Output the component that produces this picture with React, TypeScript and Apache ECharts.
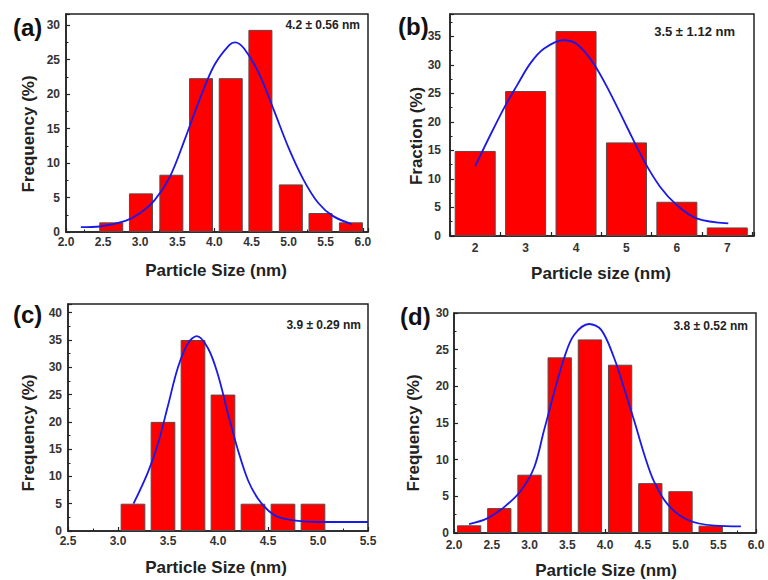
import React, { useEffect, useRef } from "react";
import * as echarts from "echarts";

// Panel (a)
const aBarX = [2.61, 3.01, 3.42, 3.82, 4.22, 4.62, 5.03, 5.43, 5.84];
const aBarY = [1.4, 5.6, 8.3, 22.3, 22.3, 29.3, 6.9, 2.75, 1.4];
const aFitX = [2.2, 2.46, 2.8, 3.0, 3.2, 3.4, 3.6, 3.8, 4.0, 4.2, 4.28, 4.4, 4.6, 4.8, 5.0, 5.2, 5.4, 5.6, 5.85];
const aFitY = [0.7, 0.8, 1.6, 2.75, 4.7, 8.0, 13.4, 19.2, 24.2, 27.1, 27.5, 26.6, 23.0, 17.7, 12.2, 7.6, 4.2, 2.3, 1.15];

// Panel (b)
const bBarX = [2, 3, 4, 5, 6, 7];
const bBarY = [14.9, 25.4, 35.9, 16.4, 6.0, 1.5];
const bFitX = [2.0, 2.3, 2.6, 2.83, 3.09, 3.36, 3.75, 4.02, 4.35, 4.68, 5.01, 5.34, 5.67, 6.0, 6.39, 7.02];
const bFitY = [12.25, 17.7, 22.9, 26.4, 30.2, 32.8, 34.3, 33.6, 30.2, 25.0, 19.1, 13.3, 8.6, 5.4, 3.1, 2.2];

// Panel (c)
const cBarX = [3.15, 3.45, 3.75, 4.05, 4.35, 4.65, 4.95];
const cBarY = [5, 20, 35, 25, 5, 5, 5];
const cFitX = [3.155, 3.3, 3.4, 3.5, 3.6, 3.7, 3.787, 3.9, 4.0, 4.1, 4.2, 4.3, 4.4, 4.5, 4.6, 4.8, 5.0, 5.5];
const cFitY = [5.0, 10.8, 16.0, 23.0, 30.0, 34.4, 35.7, 33.5, 28.6, 21.5, 14.8, 9.3, 5.9, 3.8, 2.6, 1.85, 1.65, 1.65];

// Panel (d)
const dBarX = [2.2, 2.6, 3.0, 3.4, 3.8, 4.2, 4.6, 5.0, 5.4];
const dBarY = [1.05, 3.4, 7.95, 23.95, 26.4, 22.95, 6.8, 5.7, 1.0];
const dFitX = [2.2, 2.44, 2.66, 2.88, 3.06, 3.19, 3.33, 3.46, 3.59, 3.79, 3.95, 4.12, 4.25, 4.39, 4.52, 4.65, 4.83, 5.09, 5.45, 5.8];
const dFitY = [1.22, 2.0, 3.5, 5.7, 8.9, 13.9, 19.3, 23.9, 27.0, 28.5, 27.7, 23.9, 19.8, 15.2, 10.7, 7.0, 3.9, 1.8, 1.0, 0.9];

const panelLabels = ["(a)", "(b)", "(c)", "(d)"];
const fitTexts = ["4.2 ± 0.56 nm", "3.5 ± 1.12 nm", "3.9 ± 0.29 nm", "3.8 ± 0.52 nm"];
const xTitles = ["Particle Size (nm)", "Particle size (nm)", "Particle Size (nm)", "Particle Size (nm)"];
const yTitles = ["Frequency (%)", "Fraction (%)", "Frequency (%)", "Frequency (%)"];

const FONT = "Liberation Sans, Arial, sans-serif";

const zip = (xs: number[], ys: number[]) => xs.map((x, i) => [x, ys[i]]);

export default function App() {
  const ref = useRef<HTMLDivElement>(null);
  useEffect(() => {
    document.body.style.margin = "0";
    const chart = echarts.init(ref.current!, null, { renderer: "svg" });

    const grids = [
      { left: 66, top: 14, width: 302, height: 218 },
      { left: 450, top: 14, width: 304, height: 222 },
      { left: 68, top: 304, width: 300, height: 227 },
      { left: 454, top: 313, width: 302, height: 220 },
    ];
    const xr = [
      { min: 2.0, max: 6.07, int: 0.5, fmt: (v: number) => (Math.abs(v * 2 - Math.round(v * 2)) < 1e-6 && v <= 6.0001 ? v.toFixed(1) : ""), margin: 4 },
      { min: 1.5, max: 7.53, int: 0.5, fmt: (v: number) => (Math.abs(v - Math.round(v)) < 1e-6 && v >= 2 && v <= 7 ? String(Math.round(v)) : ""), margin: 6 },
      { min: 2.5, max: 5.5, int: 0.5, fmt: (v: number) => v.toFixed(1), margin: 4 },
      { min: 2.0, max: 6.0, int: 0.5, fmt: (v: number) => v.toFixed(1), margin: 6 },
    ];
    const yr = [
      { max: 31.6, margin: 6 },
      { max: 38.9, margin: 9 },
      { max: 41.6, margin: 6 },
      { max: 30, margin: 5 },
    ];
    const barWidths = [24, 41, 24.7, 24.3];
    const bars = [zip(aBarX, aBarY), zip(bBarX, bBarY), zip(cBarX, cBarY), zip(dBarX, dBarY)];
    const fits = [zip(aFitX, aFitY), zip(bFitX, bFitY), zip(cFitX, cFitY), zip(dFitX, dFitY)];

    const labelStyle = { color: "#333", fontSize: 12, fontWeight: "bold" as const, fontFamily: FONT };
    const lineStyle = { color: "#222", width: 1.5 };

    const xAxis = xr.map((r, i) => ({
      type: "value",
      gridIndex: i,
      min: r.min,
      max: r.max,
      interval: r.int,
      axisLine: { show: true, onZero: false, lineStyle },
      axisTick: { show: true, inside: true, length: 4, lineStyle: { color: "#222", width: 1.2 } },
      minorTick: { show: i !== 1, splitNumber: 2, length: 2.5, lineStyle: { color: "#222", width: 1 } },
      splitLine: { show: false },
      axisLabel: { ...labelStyle, margin: r.margin, showMaxLabel: true, formatter: r.fmt },
    }));
    const yAxis = yr.map((r, i) => ({
      type: "value",
      gridIndex: i,
      min: 0,
      max: r.max,
      interval: 5,
      axisLine: { show: true, lineStyle },
      axisTick: { show: true, inside: true, length: 4, lineStyle: { color: "#222", width: 1.2 } },
      minorTick: { show: true, splitNumber: 2, length: 2.5, lineStyle: { color: "#222", width: 1 } },
      splitLine: { show: false },
      axisLabel: {
        ...labelStyle,
        margin: r.margin,
        formatter: (v: number) => (Math.abs(v / 5 - Math.round(v / 5)) < 1e-6 ? String(Math.round(v)) : ""),
      },
    }));

    const series: any[] = [];
    bars.forEach((d, i) => {
      series.push({
        type: "bar",
        xAxisIndex: i,
        yAxisIndex: i,
        data: d,
        barWidth: barWidths[i],
        itemStyle: { color: "#ff0000", borderColor: "#5a4a4a", borderWidth: 1 },
        z: 2,
      });
    });
    fits.forEach((d, i) => {
      series.push({
        type: "line",
        xAxisIndex: i,
        yAxisIndex: i,
        data: d,
        smooth: 0.35,
        symbol: "none",
        lineStyle: { color: "#1a1ae6", width: 1.8 },
        z: 3,
      });
    });

    const panelPos = [
      [13, 27],
      [398, 26.5],
      [13, 314],
      [400, 316],
    ];
    const fitPos = [
      [360, 25],
      [735, 31],
      [361, 325],
      [748, 326],
    ];
    const xTitlePos = [
      [216, 270],
      [601, 273],
      [216, 567],
      [606, 570],
    ];
    const yTitlePos = [
      [28, 134],
      [416, 136],
      [28, 433],
      [413, 433],
    ];

    const graphic: any[] = [];
    for (let i = 0; i < 4; i++) {
      graphic.push({
        type: "text",
        x: panelPos[i][0],
        y: panelPos[i][1],
        style: { text: panelLabels[i], fill: "#111", font: `bold 24px ${FONT}`, textAlign: "left", textVerticalAlign: "middle" },
      });
      graphic.push({
        type: "text",
        x: fitPos[i][0],
        y: fitPos[i][1],
        style: { text: fitTexts[i], fill: "#222", font: `bold ${i === 1 ? 13 : 12}px ${FONT}`, textAlign: "right", textVerticalAlign: "middle" },
      });
      graphic.push({
        type: "text",
        x: xTitlePos[i][0],
        y: xTitlePos[i][1],
        style: { text: xTitles[i], fill: "#222", font: `bold 17px ${FONT}`, textAlign: "center", textVerticalAlign: "middle" },
      });
      graphic.push({
        type: "text",
        x: yTitlePos[i][0],
        y: yTitlePos[i][1],
        rotation: Math.PI / 2,
        style: { text: yTitles[i], fill: "#222", font: `bold 17px ${FONT}`, textAlign: "center", textVerticalAlign: "middle" },
      });
    }

    chart.setOption({
      animation: false,
      backgroundColor: "#ffffff",
      grid: grids.map((g) => ({ ...g, show: true, borderColor: "#222", borderWidth: 1.5, backgroundColor: "transparent" })),
      xAxis,
      yAxis,
      series,
      graphic,
    });
    return () => chart.dispose();
  }, []);
  return <div ref={ref} style={{ position: "absolute", left: 0, top: 0, width: 768, height: 580 }} />;
}
